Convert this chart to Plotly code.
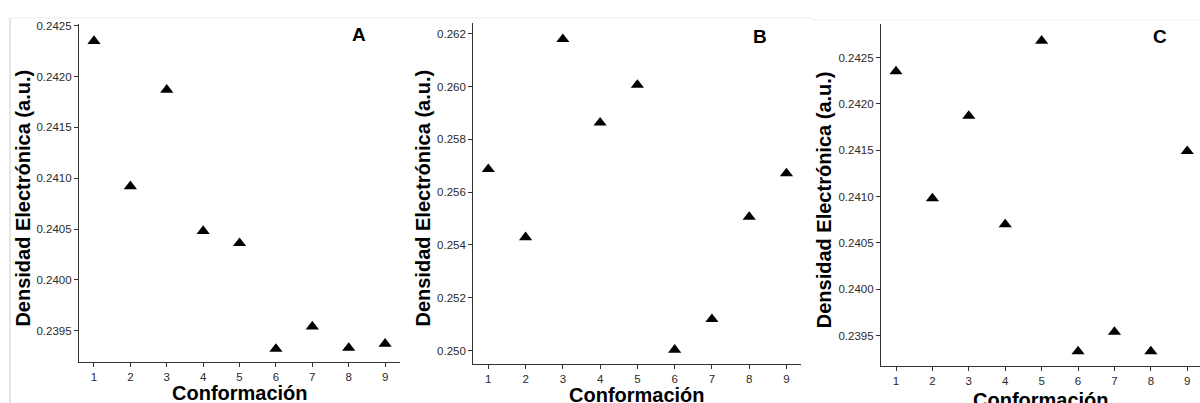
import plotly.graph_objects as go

W, H = 1200, 403

conformaciones = [1, 2, 3, 4, 5, 6, 7, 8, 9]
densidad_A = [0.24235, 0.24092, 0.24187, 0.24048, 0.24036, 0.23932, 0.23954, 0.23933, 0.23937]
densidad_B = [0.25687, 0.25429, 0.26179, 0.25863, 0.26006, 0.25003, 0.25119, 0.25506, 0.25671]
densidad_C = [0.24235, 0.24098, 0.24187, 0.24070, 0.24268, 0.23933, 0.23954, 0.23933, 0.24149]

ticks_A = [0.2395, 0.2400, 0.2405, 0.2410, 0.2415, 0.2420, 0.2425]
ticks_B = [0.250, 0.252, 0.254, 0.256, 0.258, 0.260, 0.262]
ticks_C = [0.2395, 0.2400, 0.2405, 0.2410, 0.2415, 0.2420, 0.2425]
panel_labels = ["A", "B", "C"]

FONT = "Liberation Sans, Arial, sans-serif"
AX = "#333333"

def px(x):
    return x / W

def py(y):
    return 1 - y / H

fig = go.Figure()

panels = [
    dict(y=densidad_A, ticks=ticks_A, fmt=".4f", xd=(79, 400), yd=(361.7, 20), xr=(0.588, 9.41), yr=(0.23919, 0.24252), lab=(359, 31), ytx=22.7, xt=(240, 393)),
    dict(y=densidad_B, ticks=ticks_B, fmt=".3f", xd=(473.3, 801), yd=(364, 19), xr=(0.597, 9.39), yr=(0.24948, 0.26241), lab=(760, 33), ytx=423, xt=(637, 394.5)),
    dict(y=densidad_C, ticks=ticks_C, fmt=".4f", xd=(881, 1200), yd=(365.7, 20.7), xr=(0.588, 9.35), yr=(0.239172, 0.242856), lab=(1160, 33), ytx=824, xt=(1041, 400)),
]

annotations = []
for i, p in enumerate(panels):
    n = "" if i == 0 else str(i + 1)
    fig.add_trace(go.Scatter(
        x=conformaciones, y=p["y"], mode="markers",
        marker=dict(symbol="triangle-up", size=11.5, color="black"),
        xaxis="x" + n, yaxis="y" + n, showlegend=False, cliponaxis=False,
    ))
    axcommon = dict(showline=True, linecolor=AX, linewidth=1.2, ticks="outside",
                    ticklen=4, tickcolor=AX, tickwidth=1, showgrid=False, zeroline=False,
                    tickfont=dict(family=FONT, size=11.5, color="#2a2a2a"))
    fig.layout["xaxis" + n] = dict(
        domain=[px(p["xd"][0]), px(p["xd"][1])], range=list(p["xr"]),
        anchor="y" + n, tickvals=conformaciones, **axcommon)
    fig.layout["yaxis" + n] = dict(
        domain=[py(p["yd"][0]), py(p["yd"][1])], range=list(p["yr"]),
        anchor="x" + n, tickvals=p["ticks"], tickformat=p["fmt"], **axcommon)
    annotations.append(dict(text="<b>%s</b>" % panel_labels[i], x=px(p["lab"][0]), y=py(p["lab"][1]),
                            xref="paper", yref="paper", showarrow=False,
                            font=dict(family=FONT, size=19, color="black"),
                            xanchor="center", yanchor="middle"))
    annotations.append(dict(text="<b>Densidad Electrónica (a.u.)</b>", x=px(p["ytx"]),
                            y=py((p["yd"][0] + p["yd"][1]) / 2 + 5),
                            xref="paper", yref="paper", showarrow=False, textangle=-90,
                            font=dict(family=FONT, size=20, color="black"),
                            xanchor="center", yanchor="middle"))
    annotations.append(dict(text="<b>Conformación</b>", x=px(p["xt"][0]), y=py(p["xt"][1]),
                            xref="paper", yref="paper", showarrow=False, borderpad=0,
                            font=dict(family=FONT, size=20, color="black"),
                            xanchor="center", yanchor="middle"))

shapes = [
    dict(type="line", xref="paper", yref="paper", x0=px(10), x1=px(10), y0=py(14), y1=py(403),
         line=dict(color="#cccccc", width=1)),
    dict(type="line", xref="paper", yref="paper", x0=px(10), x1=px(812), y0=py(14), y1=py(14),
         line=dict(color="#eeeeee", width=1)),
    dict(type="line", xref="paper", yref="paper", x0=px(812), x1=px(1200), y0=py(16), y1=py(16),
         line=dict(color="#eeeeee", width=1)),
]

fig.update_layout(
    width=W, height=H, margin=dict(l=0, r=0, t=0, b=0),
    paper_bgcolor="white", plot_bgcolor="white",
    annotations=annotations, shapes=shapes, showlegend=False,
    font=dict(family=FONT),
)

fig.write_html("out.html")
